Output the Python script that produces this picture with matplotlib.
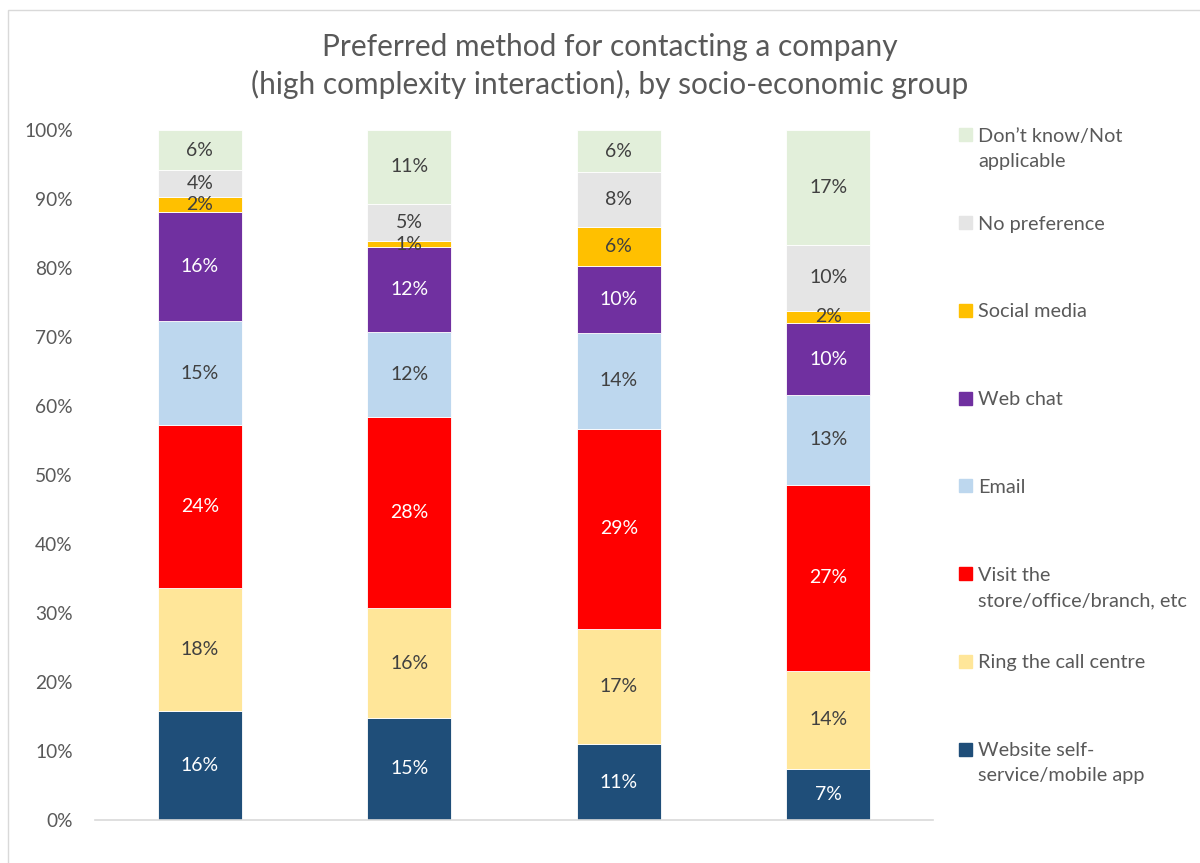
import numpy as np
import matplotlib.pyplot as plt
from matplotlib.patches import Rectangle

plt.rcParams['font.family'] = ['Lato', 'DejaVu Sans']

# shares per group (percent), bottom to top of each stack
series = ['Website self-\nservice/mobile app', 'Ring the call centre',
          'Visit the\nstore/office/branch, etc', 'Email', 'Web chat',
          'Social media', 'No preference', 'Don\u2019t know/Not\napplicable']
website = [15.8, 14.8, 11.0, 7.4]
ring = [17.8, 15.9, 16.7, 14.2]
visit = [23.6, 27.7, 29.0, 27.0]
email = [15.1, 12.3, 13.9, 13.0]
webchat = [15.8, 12.3, 9.7, 10.4]
social = [2.2, 0.9, 5.6, 1.8]
nopref = [3.9, 5.4, 8.0, 9.6]
dontknow = [5.8, 10.7, 6.1, 16.6]

colors = ['#1F4E79', '#FFE699', '#FF0000', '#BDD7EE', '#7030A0',
          '#FFC000', '#E5E5E5', '#E2EFDA']
textcol = ['white', '#404040', 'white', '#404040', 'white',
           '#404040', '#404040', '#404040']

data = np.array([website, ring, visit, email, webchat, social, nopref, dontknow])
x = np.arange(4)

fig = plt.figure(figsize=(12, 8.63), dpi=100)
ax = fig.add_axes([95/1200, 43/863, 838/1200, 690/863])

bottom = np.zeros(4)
for i in range(len(series)):
    bars = ax.bar(x, data[i], 0.4, bottom=bottom, color=colors[i],
                  edgecolor='white', linewidth=0.6)
    for j, b in enumerate(bars):
        ax.text(b.get_x() + b.get_width()/2, bottom[j] + data[i][j]/2,
                '%.0f%%' % data[i][j], ha='center', va='center',
                fontsize=14, color=textcol[i])
    bottom += data[i]

ax.set_xlim(-0.5, 3.5)
ax.set_ylim(0, 100)
ax.set_yticks(np.arange(0, 101, 10))
ax.set_yticklabels(['%d%%' % v for v in range(0, 101, 10)])
ax.set_xticks([])
ax.tick_params(axis='y', length=0, pad=16, labelsize=13.8, labelcolor='#595959')
for s in ['top', 'right', 'left']:
    ax.spines[s].set_visible(False)
ax.spines['bottom'].set_color('#D9D9D9')
ax.spines['bottom'].set_linewidth(1.2)

fig.text(0.508, 1 - 66/863,
         'Preferred method for contacting a company\n(high complexity interaction), by socio-economic group',
         ha='center', va='center', fontsize=21.5, color='#595959', linespacing=1.35)

# legend, top entry first
ys = np.linspace(135, 749, 8)
for k, i in enumerate(range(len(series) - 1, -1, -1)):
    yy = 1 - ys[k]/863
    fig.patches.append(Rectangle((959/1200, yy - 6.5/863), 13/1200, 13/863,
                                 transform=fig.transFigure, color=colors[i]))
    fig.text(978/1200, yy + 7/863, series[i], ha='left', va='top',
             fontsize=14.3, color='#595959', linespacing=1.6)

# chart frame
fig.patches.append(Rectangle((8/1200, -0.05), 1.1, 1 - 10/863 + 0.05,
                             transform=fig.transFigure, fill=False,
                             edgecolor='#D9D9D9', linewidth=1))

fig.savefig('out.png', dpi=100)
